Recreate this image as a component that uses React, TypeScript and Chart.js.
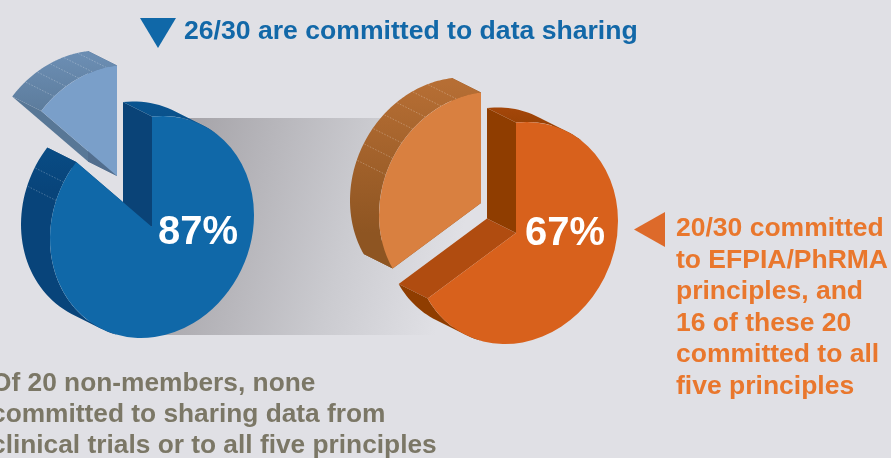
import React, { useEffect, useRef } from "react";
import { Chart, registerables } from "chart.js";

Chart.register(...registerables);

const memberLabels = ["Committed", "Not committed"];
const dataSharingValues = [26, 4];
const principlesValues = [20, 10];

const dataSharingFaces = ["#1068a8", "#7a9fc9"];
const principlesFaces = ["#d8611c", "#d98040"];

const headline = "26/30 are committed to data sharing";
const sideLines = ["20/30 committed", "to EFPIA/PhRMA", "principles, and", "16 of these 20", "committed to all", "five principles"];
const footLines = ["Of 20 non-members, none", "committed to sharing data from", "clinical trials or to all five principles"];

const PIE_RADIUS = 100;
const CANVAS_SIZE = 400;
// tilted-ellipse projection of the pie
const M = { a: 1.02, c: -0.12, d: 1.104 };
const DEPTH = { x: -29, y: -14.5 };

type Slice = {
  shift: [number, number];
  rim: [string, string, number, number];
  startWall: string;
  endWall: string;
  ticks: number[];
};

const dataSharingSlices: Slice[] = [
  { shift: [0, 0], rim: ["#0b5e9c", "#08447a", 20, 165], startWall: "#0a4377", endWall: "#0a4377", ticks: [290, 300] },
  { shift: [-35, -51], rim: ["#6b8db2", "#587796", 30, 100], startWall: "#587796", endWall: "#526e8e", ticks: [322, 330, 338, 346, 354] },
];
const principlesSlices: Slice[] = [
  { shift: [0, 0], rim: ["#b24d10", "#8f3d00", 50, 110], startWall: "#8f3d00", endWall: "#b04c10", ticks: [] },
  { shift: [-35, -30], rim: ["#b66e34", "#8e5522", 50, 200], startWall: "#8e5522", endWall: "#8e5522", ticks: [291, 300, 309, 318, 327, 337, 346] },
];

const pie3d = {
  id: "pie3d",
  afterDatasetsUpdate(chart: any, _a: any, opts: any) {
    chart.getDatasetMeta(0).data.forEach((arc: any, i: number) => {
      const [dx, dy] = opts.slices[i].shift;
      const du = dx / M.a;
      const dv = (dy - M.c * du) / M.d;
      arc.x += du;
      arc.y += dv;
    });
  },
  beforeDatasetsDraw(chart: any, _a: any, opts: any) {
    const ctx = chart.ctx;
    const cx = chart.width / 2;
    const cy = chart.height / 2;
    const map = (x: number, y: number): [number, number] => {
      const u = x - cx;
      const v = y - cy;
      return [cx + M.a * u, cy + M.c * u + M.d * v];
    };
    chart.getDatasetMeta(0).data.forEach((arc: any, i: number) => {
      const s: Slice = opts.slices[i];
      const R = arc.outerRadius;
      const point = (ang: number) => map(arc.x + R * Math.cos(ang), arc.y + R * Math.sin(ang));
      const apex = map(arc.x, arc.y);
      const addQuad = (p: number[], q: number[]) => {
        const pts = [p, q, [q[0] + DEPTH.x, q[1] + DEPTH.y], [p[0] + DEPTH.x, p[1] + DEPTH.y]];
        let area = 0;
        pts.forEach((a, k) => {
          const b = pts[(k + 1) % 4];
          area += a[0] * b[1] - b[0] * a[1];
        });
        const ordered = area < 0 ? pts.slice().reverse() : pts;
        ctx.moveTo(ordered[0][0], ordered[0][1]);
        for (let k = 1; k < 4; k++) ctx.lineTo(ordered[k][0], ordered[k][1]);
        ctx.closePath();
      };
      const wall = (edge: number, color: string) => {
        ctx.fillStyle = color;
        ctx.beginPath();
        addQuad(apex, point(edge));
        ctx.fill();
      };
      wall(arc.startAngle, s.startWall);
      wall(arc.endAngle, s.endWall);

      const gradient = ctx.createLinearGradient(0, s.rim[2], 0, s.rim[3]);
      gradient.addColorStop(0, s.rim[0]);
      gradient.addColorStop(1, s.rim[1]);
      const steps = 120;
      ctx.fillStyle = gradient;
      ctx.beginPath();
      for (let k = 0; k < steps; k++) {
        const a0 = arc.startAngle + ((arc.endAngle - arc.startAngle) * k) / steps;
        const a1 = arc.startAngle + ((arc.endAngle - arc.startAngle) * (k + 1)) / steps;
        // only the part of the rim that shows behind the face
        const mid = point((a0 + a1) / 2);
        const ox = mid[0] + DEPTH.x - apex[0];
        const oy = mid[1] + DEPTH.y - apex[1];
        const u = ox / M.a;
        const v = (oy - M.c * u) / M.d;
        if (Math.hypot(u, v) > R) addQuad(point(a0), point(a1));
      }
      ctx.fill();

      ctx.save();
      ctx.strokeStyle = "rgba(255,255,255,0.32)";
      ctx.lineWidth = 0.8;
      ctx.setLineDash([1.5, 1.5]);
      s.ticks.forEach((deg) => {
        const p = point((deg * Math.PI) / 180 - Math.PI / 2);
        ctx.beginPath();
        ctx.moveTo(p[0], p[1]);
        ctx.lineTo(p[0] + DEPTH.x, p[1] + DEPTH.y);
        ctx.stroke();
      });
      ctx.restore();
    });
    ctx.save();
    ctx.translate(cx, cy);
    ctx.transform(M.a, M.c, 0, M.d, 0, 0);
    ctx.translate(-cx, -cy);
  },
  afterDatasetsDraw(chart: any) {
    chart.ctx.restore();
  },
};

function Pie({ values, faces, slices, left, top }: { values: number[]; faces: string[]; slices: Slice[]; left: number; top: number }) {
  const ref = useRef<HTMLCanvasElement>(null);
  useEffect(() => {
    const chart = new Chart(ref.current as HTMLCanvasElement, {
      type: "pie",
      data: {
        labels: memberLabels,
        datasets: [{ data: values, backgroundColor: faces, borderWidth: 0, radius: PIE_RADIUS, clip: false } as any],
      },
      options: {
        animation: false,
        responsive: false,
        devicePixelRatio: 1,
        layout: { padding: 0 },
        plugins: { legend: { display: false }, tooltip: { enabled: false }, pie3d: { slices } } as any,
      },
      plugins: [pie3d as any],
    });
    return () => chart.destroy();
  }, []);
  return <canvas ref={ref} width={CANVAS_SIZE} height={CANVAS_SIZE} style={{ position: "absolute", left, top }} />;
}

const FONT = '"Liberation Sans", Arial, sans-serif';
const text = (left: number, top: number, size: number, color: string, lh?: number): React.CSSProperties => ({
  position: "absolute",
  left,
  top,
  fontFamily: FONT,
  fontWeight: 700,
  fontSize: size,
  color,
  lineHeight: lh ? `${lh}px` : "normal",
  whiteSpace: "nowrap",
});

export default function App() {
  return (
    <div style={{ position: "fixed", left: 0, top: 0, width: 891, height: 458, overflow: "hidden", background: "#e0e0e5" }}>
      <div style={{ position: "absolute", left: 152, top: 118, width: 330, height: 217, background: "linear-gradient(105deg, #a4a2a7 8%, #cbcbd0 58%, #e0e0e5 88%)" }} />
      <Pie values={dataSharingValues} faces={dataSharingFaces} slices={dataSharingSlices} left={152 - CANVAS_SIZE / 2} top={227 - CANVAS_SIZE / 2} />
      <Pie values={principlesValues} faces={principlesFaces} slices={principlesSlices} left={516 - CANVAS_SIZE / 2} top={233 - CANVAS_SIZE / 2} />
      <div style={{ position: "absolute", left: 140, top: 18, width: 36, height: 30, background: "#1068a8", clipPath: "polygon(0 0, 100% 0, 50% 100%)" }} />
      <div style={{ position: "absolute", left: 634, top: 212, width: 31, height: 35, background: "#dd6a2a", clipPath: "polygon(0 50%, 100% 0, 100% 100%)" }} />
      <div style={text(184, 15, 26.6, "#1268a8")}>{headline}</div>
      <div style={text(158, 208, 40, "#ffffff")}>87%</div>
      <div style={text(525, 209, 40, "#ffffff")}>67%</div>
      <div style={text(676, 212, 26.5, "#e9772d", 31.5)}>
        {sideLines.map((l) => (
          <div key={l}>{l}</div>
        ))}
      </div>
      <div style={text(-9, 367, 26.3, "#7b7766", 31)}>
        {footLines.map((l) => (
          <div key={l}>{l}</div>
        ))}
      </div>
    </div>
  );
}
